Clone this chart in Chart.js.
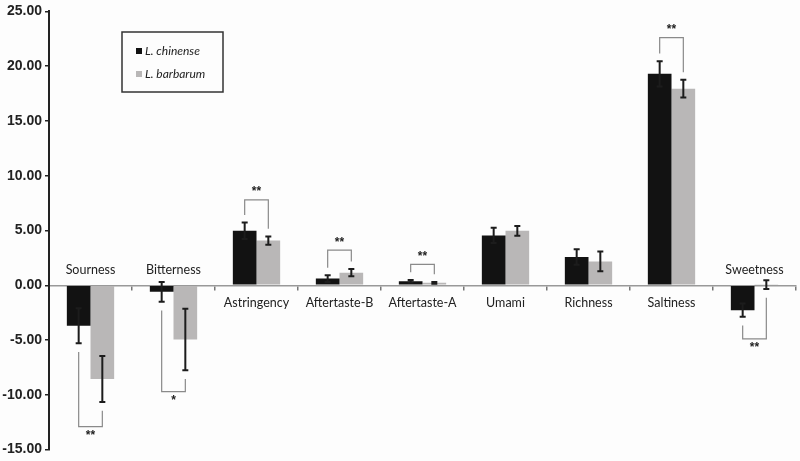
<!DOCTYPE html>
<html>
<head>
<meta charset="utf-8">
<script src="https://cdn.jsdelivr.net/npm/chart.js@4"></script>
<style>
  html, body { margin: 0; padding: 0; background: #fdfdfd; }
  #wrap { width: 800px; height: 461px; }
</style>
</head>
<body>
<div id="wrap"><canvas id="tasteChart"></canvas></div>
<script>
// taste attributes (x categories)
const categories = ['Sourness', 'Bitterness', 'Astringency', 'Aftertaste-B', 'Aftertaste-A',
                    'Umami', 'Richness', 'Saltiness', 'Sweetness'];
const seriesNames = ['L. chinense', 'L. barbarum'];

// mean values
const chinense = [-3.7, -0.6, 4.97, 0.61, 0.37, 4.55, 2.58, 19.3, -2.27];
const barbarum = [-8.55, -4.95, 4.08, 1.15, 0.22, 4.97, 2.18, 17.95, 0.05];

// error bar half-lengths
const chinenseErr = [1.6, 0.9, 0.75, 0.3, 0.12, 0.7, 0.7, 1.15, 0.6];
const barbarumErr = [2.1, 2.8, 0.38, 0.33, 0.08, 0.45, 0.9, 0.8, 0.4];

// significance marks and the value where the bracket sits
const sigMarks = ['**', '*', '**', '**', '**', '', '', '**', '**'];
const bracketAt = [-12.9, -9.7, 7.8, 3.2, 1.9, null, null, 22.6, -4.9];

const yTicks = [-15, -10, -5, 0, 5, 10, 15, 20, 25];

const extras = {
    id: 'extras',
    afterDatasetsDraw(chart) {
        const ctx = chart.ctx;
        const y = chart.scales.y;
        const x = chart.scales.x;
        const metaA = chart.getDatasetMeta(0).data;
        const metaB = chart.getDatasetMeta(1).data;
        ctx.save();

        // error bars
        [[chinense, chinenseErr, metaA], [barbarum, barbarumErr, metaB]].forEach(([vals, errs, bars]) => {
            bars.forEach((bar, i) => {
                const top = y.getPixelForValue(vals[i] + errs[i]);
                const bot = y.getPixelForValue(vals[i] - errs[i]);
                ctx.strokeStyle = '#1c1c1c';
                ctx.lineWidth = 2;
                ctx.beginPath();
                ctx.moveTo(bar.x, top); ctx.lineTo(bar.x, bot);
                ctx.moveTo(bar.x - 3, top); ctx.lineTo(bar.x + 3, top);
                ctx.moveTo(bar.x - 3, bot); ctx.lineTo(bar.x + 3, bot);
                ctx.stroke();
            });
        });

        // significance brackets
        ctx.strokeStyle = '#8a8a8a';
        ctx.lineWidth = 1.2;
        ctx.fillStyle = '#222';
        ctx.font = 'bold 12px "Liberation Sans"';
        ctx.textAlign = 'center';
        ctx.textBaseline = 'middle';
        categories.forEach((c, i) => {
            if (bracketAt[i] === null) return;
            const lvl = bracketAt[i];
            const up = lvl > 0;
            const endA = up ? chinense[i] + chinenseErr[i] + 0.7 : chinense[i] - chinenseErr[i] - 0.8;
            const endB = up ? barbarum[i] + barbarumErr[i] + 0.7 : barbarum[i] - barbarumErr[i] - 0.8;
            const yl = y.getPixelForValue(lvl);
            const x0 = metaA[i].x, x1 = metaB[i].x;
            ctx.beginPath();
            ctx.moveTo(x0, y.getPixelForValue(endA));
            ctx.lineTo(x0, yl);
            ctx.lineTo(x1, yl);
            ctx.lineTo(x1, y.getPixelForValue(endB));
            ctx.stroke();
            ctx.fillText(sigMarks[i], (x0 + x1) / 2, up ? yl - 8 : yl + 9);
        });

        // category labels next to the zero line
        const zero = y.getPixelForValue(0);
        ctx.font = '12.5px Lato';
        ctx.fillStyle = '#222';
        categories.forEach((c, i) => {
            const above = chinense[i] < 0;
            ctx.fillText(c, x.getPixelForValue(i), above ? zero - 15 : zero + 18);
        });

        // legend box
        ctx.strokeStyle = '#333';
        ctx.lineWidth = 1.5;
        ctx.strokeRect(122, 32, 101, 60);
        ctx.textAlign = 'left';
        ctx.font = 'italic 12px Lato';
        seriesNames.forEach((name, d) => {
            const cy = d ? 74 : 51;
            ctx.fillStyle = chart.data.datasets[d].backgroundColor;
            ctx.fillRect(136, cy - 3, 6, 6);
            ctx.fillStyle = '#222';
            ctx.fillText(name, 145, cy);
        });
        ctx.restore();
    }
};

new Chart(document.getElementById('tasteChart'), {
    type: 'bar',
    data: {
        labels: categories,
        datasets: [
            { label: seriesNames[0], data: chinense, backgroundColor: '#121212' },
            { label: seriesNames[1], data: barbarum, backgroundColor: '#b9b7b7' }
        ]
    },
    options: {
        responsive: true,
        maintainAspectRatio: false,
        animation: false,
        devicePixelRatio: 1,
        categoryPercentage: 0.57,
        barPercentage: 1.0,
        layout: { padding: { top: 11, right: 4, bottom: 11, left: 0 } },
        scales: {
            x: {
                position: { y: 0 },
                grid: { drawOnChartArea: false, drawTicks: true, tickLength: 4, color: '#777', lineWidth: 1.5, offset: true },
                border: { color: '#999', width: 1.5 },
                ticks: { display: false }
            },
            y: {
                min: -15,
                max: 25,
                afterBuildTicks: (scale) => { scale.ticks = yTicks.map(v => ({ value: v })); },
                afterFit: (scale) => { scale.width = 49; },
                grid: { drawOnChartArea: false, drawTicks: true, tickLength: 4, color: '#222', lineWidth: 1.5 },
                border: { color: '#222', width: 2 },
                ticks: {
                    color: '#222',
                    padding: 3,
                    font: { family: '"Liberation Sans"', size: 14, weight: 'bold' },
                    callback: (v) => v.toFixed(2)
                }
            }
        },
        plugins: {
            legend: { display: false },
            tooltip: { enabled: false }
        }
    },
    plugins: [extras]
});
</script>
</body>
</html>
